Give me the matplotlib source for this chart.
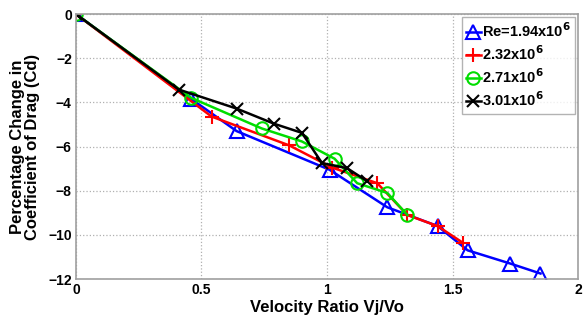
import matplotlib.pyplot as plt

plt.rcParams['font.family'] = ['Liberation Sans', 'DejaVu Sans']
plt.rcParams['font.weight'] = 'bold'
plt.rcParams['mathtext.default'] = 'bf'

# velocity ratio Vj/Vo and percentage change in Cd for each Reynolds number
vr_194 = [0.0, 0.46, 0.64, 1.01, 1.24, 1.44, 1.56, 1.73, 1.85]
cd_194 = [0.0, -3.85, -5.3, -7.05, -8.75, -9.6, -10.7, -11.3, -11.75]

vr_232 = [0.0, 0.54, 0.85, 1.02, 1.20, 1.32, 1.44, 1.54]
cd_232 = [0.0, -4.64, -5.95, -6.95, -7.66, -9.1, -9.6, -10.35]

vr_271 = [0.0, 0.46, 0.74, 0.90, 1.03, 1.12, 1.24, 1.32]
cd_271 = [0.0, -3.8, -5.18, -5.77, -6.55, -7.66, -8.1, -9.1]

vr_301 = [0.0, 0.41, 0.64, 0.79, 0.90, 0.98, 1.08, 1.16]
cd_301 = [0.0, -3.42, -4.28, -4.97, -5.38, -6.75, -6.98, -7.57]

labels = [r'Re=1.94x10$^6$', r'2.32x10$^6$', r'2.71x10$^6$', r'3.01x10$^6$']

fig = plt.figure(figsize=(5.84, 3.2), dpi=100)
ax = fig.add_axes([0.130, 0.128, 0.860, 0.828])

ax.plot(vr_194, cd_194, color='#0000ff', marker='^', mfc='none', ms=10, mew=1.5, lw=1.8, label=labels[0])
ax.plot(vr_232, cd_232, color='#ff0000', marker='+', ms=10, mew=1.5, lw=1.8, label=labels[1])
ax.plot(vr_271, cd_271, color='#00dd00', marker='o', mfc='none', ms=9, mew=1.5, lw=1.8, label=labels[2])
ax.plot(vr_301, cd_301, color='black', marker='x', ms=8, mew=1.5, lw=1.8, label=labels[3])

ax.set_xlim(0, 2)
ax.set_ylim(-12, 0)
ax.set_xticks([0, 0.5, 1, 1.5, 2])
ax.set_xticklabels(['0', '0.5', '1', '1.5', '2'])
ax.set_yticks([0, -2, -4, -6, -8, -10, -12])
ax.tick_params(labelsize=10, length=0, pad=3)
ax.grid(True, color='#b0b0b0', linestyle=':', linewidth=0.9)
for s in ax.spines.values():
    s.set_color('#a0a0a0')
    s.set_linewidth(1.2)

ax.set_xlabel('Velocity Ratio Vj/Vo', fontsize=12, fontweight='bold', labelpad=2)
ax.set_ylabel('Percentage Change in\nCoefficient of Drag (Cd)', fontsize=12, fontweight='bold',
              labelpad=6, linespacing=1.0)

leg = ax.legend(loc='upper right', fontsize=10.5, frameon=True, fancybox=False,
                handlelength=1.0, handletextpad=0.1, borderpad=0.3, labelspacing=0.3,
                borderaxespad=0.2)
leg.get_frame().set_edgecolor('#a0a0a0')
leg.get_frame().set_linewidth(1.0)

fig.savefig('out.png', dpi=100)
